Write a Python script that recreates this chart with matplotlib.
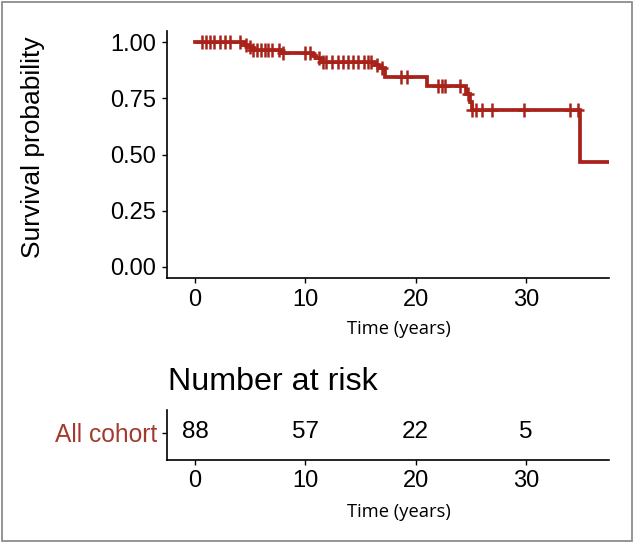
import numpy as np
import matplotlib
matplotlib.use("Agg")
import matplotlib.pyplot as plt
from matplotlib.patches import Rectangle

# ---- data ----
step_times = [0.0, 4.4, 4.8, 5.2, 7.8, 10.7, 11.0, 11.4, 16.3, 16.7, 17.2, 21.0, 24.6, 24.9, 25.1, 34.9]
surv_levels = [1.0, 0.988, 0.977, 0.965, 0.953, 0.941, 0.929, 0.912, 0.898, 0.884, 0.845, 0.804, 0.768, 0.733, 0.699, 0.467]
end_time = 37.5
censor_times = [0.6, 1.0, 1.36, 1.72, 2.27, 2.72, 3.17, 4.08, 4.6, 5.0, 5.3, 5.6, 6.0, 6.35,
                6.65, 6.95, 7.6, 8.0, 10.0, 10.4, 11.2, 11.6, 11.9, 12.4, 13.0, 13.4, 13.9,
                14.35, 14.8, 15.3, 15.7, 16.0, 16.5, 17.0, 18.7, 19.2, 22.05, 22.4, 22.7,
                24.0, 24.8, 25.1, 25.5, 26.0, 26.9, 29.8, 34.0, 34.75]
risk_times = [0, 10, 20, 30]
risk_counts = [88, 57, 22, 5]
group_name = "All cohort"
y_ticks = [0.0, 0.25, 0.50, 0.75, 1.00]
y_ticklabels = ["0.00", "0.25", "0.50", "0.75", "1.00"]
x_ticks = [0, 10, 20, 30]

LINE = "#A8221A"
LABEL_RED = "#A23B2E"
W, H = 635, 544
fig = plt.figure(figsize=(W / 100, H / 100), dpi=100)
plt.rcParams['font.family'] = ['Liberation Sans', 'DejaVu Sans']

def fx(px):
    return px / W

def fy(py):
    return 1 - py / H

# outer frame
fig.patches.append(Rectangle((fx(2), fy(541)), fx(630), 539 / H, transform=fig.transFigure,
                             fill=False, edgecolor="#8c8c8c", linewidth=1.3))

# ---- main survival plot ----
L, R, T, B = 166.7, 609.0, 31.1, 278.0
ax = fig.add_axes([fx(L), fy(B), fx(R - L), (B - T) / H])
xs = list(step_times) + [end_time]
ys = list(surv_levels) + [surv_levels[-1]]
ax.step(xs, ys, where="post", color=LINE, linewidth=2.7, solid_joinstyle="miter", zorder=3)
idx = np.searchsorted(step_times, censor_times, side="right") - 1
cy = np.array(surv_levels)[idx]
ax.plot(censor_times, cy, linestyle="none", marker="|", markersize=10, markeredgewidth=1.8,
        color=LINE, zorder=4)
ax.plot(censor_times, cy, linestyle="none", marker="_", markersize=9, markeredgewidth=1.8,
        color=LINE, zorder=4)

ax.set_xlim(-2.57, 37.55)
ax.set_ylim(-0.05, 1.05)
ax.set_yticks(y_ticks)
ax.set_yticklabels(y_ticklabels)
ax.set_xticks(x_ticks)
for s in ["top", "right"]:
    ax.spines[s].set_visible(False)
for s in ["left", "bottom"]:
    ax.spines[s].set_linewidth(1.2)
ax.tick_params(axis="both", length=3.6, width=1.0, labelsize=17, color="black")
ax.tick_params(axis="y", pad=4.2)
ax.tick_params(axis="x", pad=4.2)
ax.set_ylabel("Survival probability", fontsize=19)
ax.yaxis.set_label_coords((33 - L) / (R - L), (B - 147) / (B - T))
ax.yaxis.label.set_va("center")
ax.set_xlabel("Time (years)", fontsize=13.2, family=["Open Sans", "DejaVu Sans"])
ax.xaxis.set_label_coords((399 - L) / (R - L), (B - 329) / (B - T))
ax.xaxis.label.set_va("center")

# ---- number at risk table ----
fig.text(fx(168), fy(381.7), "Number at risk", fontsize=23.2, ha="left", va="center")
tT, tB = 410.0, 459.5
ax2 = fig.add_axes([fx(L), fy(tB), fx(R - L), (tB - tT) / H])
ax2.set_xlim(-2.57, 37.55)
ax2.set_ylim(0, 1)
row_y = (tB - 432.5) / (tB - tT)
for t, n in zip(risk_times, risk_counts):
    ax2.text(t, row_y, str(n), ha="center", va="center", fontsize=17.5)
ax2.set_yticks([row_y])
ax2.set_yticklabels([group_name], color=LABEL_RED, fontsize=17.7)
ax2.set_xticks(x_ticks)
for s in ["top", "right"]:
    ax2.spines[s].set_visible(False)
for s in ["left", "bottom"]:
    ax2.spines[s].set_linewidth(1.2)
ax2.tick_params(axis="x", length=3.6, width=1.0, labelsize=17, color="black", pad=4.2)
ax2.tick_params(axis="y", length=3.6, width=1.0, color="black", pad=3.4, labelcolor=LABEL_RED,
                labelsize=17.7)
ax2.set_xlabel("Time (years)", fontsize=13.2, family=["Open Sans", "DejaVu Sans"])
ax2.xaxis.set_label_coords((399 - L) / (R - L), (tB - 512) / (tB - tT))
ax2.xaxis.label.set_va("center")

fig.savefig("out.png", dpi=100)
